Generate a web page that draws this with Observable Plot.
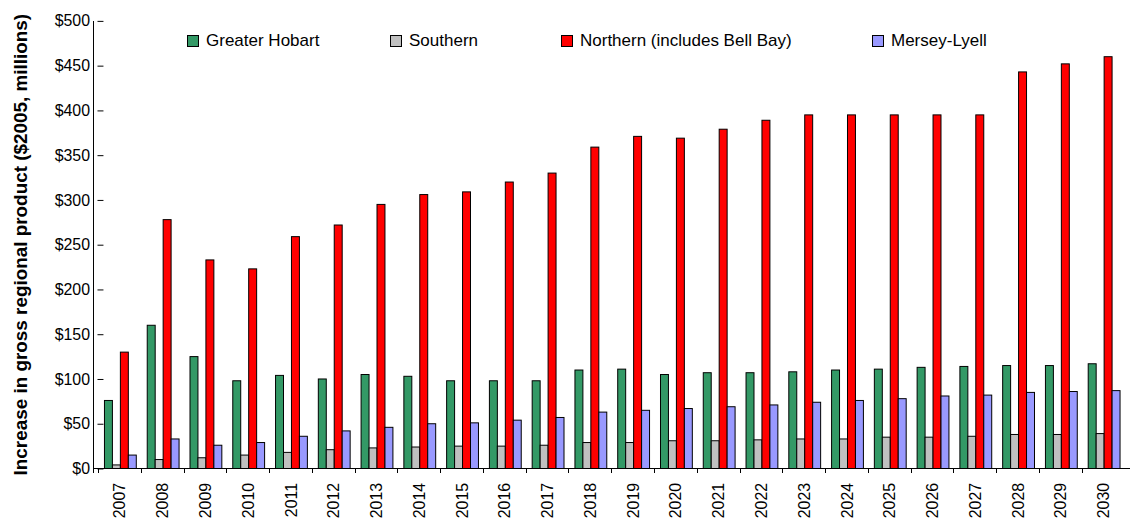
<!DOCTYPE html>
<html>
<head>
<meta charset="utf-8">
<script src="https://cdn.jsdelivr.net/npm/d3@7"></script>
<script src="https://cdn.jsdelivr.net/npm/@observablehq/plot@0.6"></script>
<style>
  html, body { margin: 0; padding: 0; background: white; overflow: hidden; }
  #wrap { position: relative; width: 1130px; height: 524px; overflow: hidden; font-family: "Liberation Sans", Arial, sans-serif; }
  .leg { position: absolute; top: 31px; display: flex; align-items: center; font-size: 17px; color: #000; white-space: nowrap; }
  .leg .sw { width: 10px; height: 10px; border: 1px solid #000; margin-right: 7px; }
</style>
</head>
<body>
<div id="wrap"></div>
<script>
const years = ["2007","2008","2009","2010","2011","2012","2013","2014","2015","2016","2017","2018","2019","2020","2021","2022","2023","2024","2025","2026","2027","2028","2029","2030"];
const seriesNames = ["Greater Hobart", "Southern", "Northern (includes Bell Bay)", "Mersey-Lyell"];
const seriesColors = ["#339966", "#C0C0C0", "#FF0000", "#9999FF"];
const greaterHobart = [76,160,125,98,104,100,105,103,98,98,98,110,111,105,107,107,108,110,111,113,114,115,115,117];
const southern      = [4,10,12,15,18,21,23,24,25,25,26,29,29,31,31,32,33,33,35,35,36,38,38,39];
const northern      = [130,278,233,223,259,272,295,306,309,320,330,359,371,369,379,389,395,395,395,395,395,443,452,460];
const merseyLyell   = [15,33,26,29,36,42,46,50,51,54,57,63,65,67,69,71,74,76,78,81,82,85,86,87];
const yTicks = [0,50,100,150,200,250,300,350,400,450,500];
const yTitle = "Increase in gross regional product ($2005, millions)";

const seriesValues = [greaterHobart, southern, northern, merseyLyell];
const data = [];
years.forEach((yr, i) => {
  seriesNames.forEach((s, j) => data.push({year: yr, series: s, value: seriesValues[j][i]}));
});

const W = 1136, H = 524, ML = 94, MT = 21, MB = 53;

const plot = Plot.plot({
  width: W,
  height: H,
  marginLeft: ML,
  marginRight: 0,
  marginTop: MT,
  marginBottom: MB,
  style: {fontFamily: "'Liberation Sans', Arial, sans-serif", fontSize: "16px", color: "#000", background: "white", overflow: "visible"},
  fx: {domain: years, paddingInner: 0.233, paddingOuter: 0.1165, tickSize: 0, tickRotate: -90, tickPadding: 14, label: null},
  x: {domain: seriesNames, padding: 0, axis: null},
  y: {domain: [0, 500], ticks: yTicks, tickFormat: d => "$" + d, tickSize: 6, tickPadding: 8, label: null},
  color: {domain: seriesNames, range: seriesColors},
  marks: [
    Plot.barY(data, {fx: "year", x: "series", y: "value", fill: "series", stroke: "#000", strokeWidth: 1})
  ]
});

const wrap = document.getElementById("wrap");
wrap.appendChild(plot);

// axis lines, group boundary ticks and y-axis title using the plot's own scales
const ys = plot.scale("y");
const fxs = plot.scale("fx");
const svg = d3.select(plot);
const y0 = ys.apply(0), yTop = ys.apply(500);
const g = svg.append("g").attr("stroke", "#000").attr("stroke-width", 1).attr("shape-rendering", "crispEdges");
g.append("line").attr("x1", ML).attr("x2", ML).attr("y1", yTop).attr("y2", y0 + 5);
g.append("line").attr("x1", ML).attr("x2", W).attr("y1", y0).attr("y2", y0);
const half = (fxs.step - fxs.bandwidth) / 2;
years.forEach(yr => {
  const bx = fxs.apply(yr) - half;
  g.append("line").attr("x1", bx).attr("x2", bx).attr("y1", y0).attr("y2", y0 + 5);
});
svg.append("text")
  .attr("transform", `translate(27,${(y0 + yTop) / 2}) rotate(-90)`)
  .attr("text-anchor", "middle")
  .attr("font-weight", "bold")
  .attr("font-size", 19)
  .attr("fill", "#000")
  .text(yTitle);

// legend
const legLeft = [187, 390, 561, 872];
seriesNames.forEach((s, i) => {
  const d = document.createElement("div");
  d.className = "leg";
  d.style.left = legLeft[i] + "px";
  const sw = document.createElement("span");
  sw.className = "sw";
  sw.style.background = seriesColors[i];
  const t = document.createElement("span");
  t.textContent = s;
  d.appendChild(sw); d.appendChild(t);
  wrap.appendChild(d);
});
</script>
</body>
</html>
